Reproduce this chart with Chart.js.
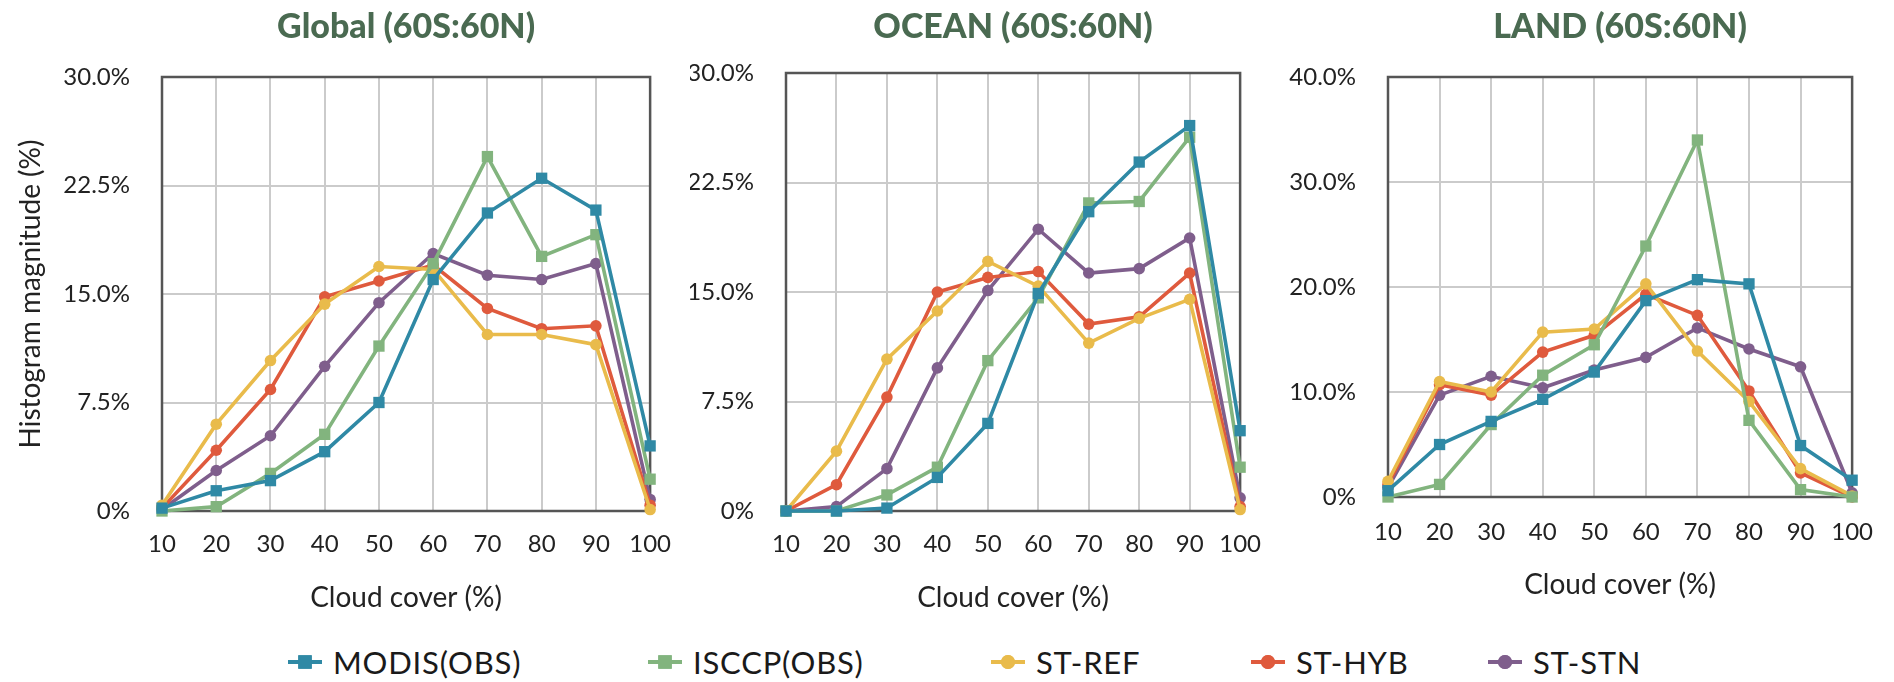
<!DOCTYPE html>
<html>
<head>
<meta charset="utf-8">
<script src="https://cdn.jsdelivr.net/npm/chart.js@4.4.1/dist/chart.umd.min.js"></script>
<style>
  html, body { margin: 0; padding: 0; background: #ffffff; width: 1894px; height: 682px; overflow: hidden; font-family: Lato, "Open Sans", sans-serif; }
  canvas.panel { position: absolute; top: 0; }
  #legend { position: absolute; left: 0; top: 640px; width: 1894px; height: 44px; }
  .item { position: absolute; top: 0; height: 44px; display: flex; align-items: center; white-space: nowrap; }
  .item canvas { margin-right: 11px; }
  .item span { font-family: Lato, sans-serif; font-size: 31px; color: #1a1a1a; letter-spacing: 0.8px; }
</style>
</head>
<body>
<canvas id="c0" class="panel" width="690" height="630" style="left:0px"></canvas>
<canvas id="c1" class="panel" width="590" height="630" style="left:690px"></canvas>
<canvas id="c2" class="panel" width="614" height="630" style="left:1280px"></canvas>
<div id="legend"></div>
<script>
// ---------------- data ----------------
const cloudCover = ['10', '20', '30', '40', '50', '60', '70', '80', '90', '100'];

const seriesNames = ['MODIS(OBS)', 'ISCCP(OBS)', 'ST-REF', 'ST-HYB', 'ST-STN'];

// Global (60S:60N)
const globalModis = [0.2, 1.4, 2.1, 4.1, 7.5, 16.0, 20.6, 23.0, 20.8, 4.5];
const globalIsccp = [0.0, 0.3, 2.6, 5.3, 11.4, 17.1, 24.5, 17.6, 19.1, 2.2];
const globalRef   = [0.4, 6.0, 10.4, 14.3, 16.9, 16.7, 12.2, 12.2, 11.5, 0.1];
const globalHyb   = [0.2, 4.2, 8.4, 14.8, 15.9, 17.0, 14.0, 12.6, 12.8, 0.4];
const globalStn   = [0.1, 2.8, 5.2, 10.0, 14.4, 17.8, 16.3, 16.0, 17.1, 0.8];

// OCEAN (60S:60N)
const oceanModis = [0.0, 0.0, 0.2, 2.3, 6.0, 14.9, 20.5, 23.9, 26.4, 5.5];
const oceanIsccp = [0.0, 0.0, 1.1, 3.0, 10.3, 14.6, 21.1, 21.2, 25.6, 3.0];
const oceanRef   = [0.0, 4.1, 10.4, 13.7, 17.1, 15.4, 11.5, 13.2, 14.5, 0.1];
const oceanHyb   = [0.0, 1.8, 7.8, 15.0, 16.0, 16.4, 12.8, 13.3, 16.3, 0.3];
const oceanStn   = [0.0, 0.3, 2.9, 9.8, 15.1, 19.3, 16.3, 16.6, 18.7, 0.9];

// LAND (60S:60N)
const landModis = [0.6, 5.0, 7.2, 9.3, 11.9, 18.7, 20.7, 20.3, 4.9, 1.6];
const landIsccp = [0.0, 1.2, 6.9, 11.6, 14.5, 23.9, 34.0, 7.3, 0.7, 0.0];
const landRef   = [1.5, 11.0, 10.0, 15.7, 16.0, 20.3, 13.9, 9.1, 2.7, 0.1];
const landHyb   = [1.2, 10.7, 9.7, 13.8, 15.4, 19.3, 17.3, 10.1, 2.3, 0.0];
const landStn   = [0.9, 9.7, 11.5, 10.4, 12.1, 13.3, 16.1, 14.1, 12.4, 0.4];

// tick labels
const yTicks30 = ['0%', '7.5%', '15.0%', '22.5%', '30.0%'];
const yTicks40 = ['0%', '10.0%', '20.0%', '30.0%', '40.0%'];

const panelTitles = ['Global (60S:60N)', 'OCEAN (60S:60N)', 'LAND (60S:60N)'];
const xAxisTitle = 'Cloud cover (%)';
const yAxisTitle = 'Histogram magnitude (%)';

// ---------------- styles ----------------
const seriesColors = ['#2f89a5', '#82b47e', '#e9bb4b', '#df5a3d', '#7f5e8c'];
const seriesPointStyles = ['rect', 'rect', 'circle', 'circle', 'circle'];
const seriesPointRadius = [8, 8, 5.8, 5.8, 5.8];
const FONT = 'Lato';
const TEXT = '#222222';

const boxBorder = {
  id: 'boxBorder',
  beforeDatasetsDraw(chart) {
    const { ctx, chartArea: { left, top, right, bottom } } = chart;
    ctx.save();
    ctx.strokeStyle = '#555555';
    ctx.lineWidth = 2.5;
    ctx.strokeRect(left, top, right - left, bottom - top);
    ctx.restore();
  }
};

function makeDatasets(arrays) {
  return arrays.map((arr, i) => ({
    label: seriesNames[i],
    data: arr,
    borderColor: seriesColors[i],
    backgroundColor: seriesColors[i],
    pointBackgroundColor: seriesColors[i],
    pointBorderColor: seriesColors[i],
    pointStyle: seriesPointStyles[i],
    pointRadius: seriesPointRadius[i],
    pointBorderWidth: 0,
    borderWidth: 3.6,
    tension: 0,
    clip: false
  }));
}

function makeChart(id, cfg) {
  return new Chart(document.getElementById(id), {
    type: 'line',
    data: { labels: cloudCover, datasets: makeDatasets(cfg.series) },
    plugins: [boxBorder],
    options: {
      responsive: false,
      animation: false,
      events: [],
      layout: { padding: { left: 0, right: cfg.padRight, top: 0, bottom: 0 } },
      plugins: {
        legend: { display: false },
        tooltip: { enabled: false },
        title: {
          display: true,
          text: cfg.title,
          color: '#4a6a51',
          fullSize: false,
          font: { family: FONT, size: 34, weight: '900' },
          padding: { top: 6.6, bottom: cfg.titlePadBottom }
        }
      },
      scales: {
        x: {
          type: 'category',
          offset: false,
          grid: { color: '#cbcbcb', lineWidth: 2, drawTicks: false },
          border: { display: false },
          ticks: { color: TEXT, font: { family: FONT, size: 24 }, padding: cfg.xTickPad, maxRotation: 0, autoSkip: false },
          title: { display: true, text: xAxisTitle, color: TEXT, font: { family: FONT, size: 28 }, padding: { top: 0, bottom: cfg.xTitlePadBottom } },
          afterFit(scale) { scale.height = cfg.xHeight; }
        },
        y: {
          min: 0,
          max: cfg.yMax,
          grid: { color: '#cbcbcb', lineWidth: 2, drawTicks: false },
          border: { display: false },
          ticks: {
            stepSize: cfg.yMax / 4,
            color: TEXT,
            font: { family: FONT, size: 24 },
            padding: 32,
            callback: (v, idx) => cfg.yLabels[idx]
          },
          title: cfg.yTitle
            ? { display: true, text: yAxisTitle, color: TEXT, font: { family: FONT, size: 28 }, padding: { top: 14, bottom: 0 } }
            : { display: false },
          afterFit(scale) { scale.width = cfg.yWidth; }
        }
      }
    }
  });
}

makeChart('c0', {
  title: panelTitles[0],
  series: [globalModis, globalIsccp, globalRef, globalHyb, globalStn],
  yMax: 30, yLabels: yTicks30, yTitle: true,
  yWidth: 162, padRight: 38, titlePadBottom: 29.6, xHeight: 119, xTickPad: 19, xTitlePadBottom: 15
});
makeChart('c1', {
  title: panelTitles[1],
  series: [oceanModis, oceanIsccp, oceanRef, oceanHyb, oceanStn],
  yMax: 30, yLabels: yTicks30, yTitle: false,
  yWidth: 96, padRight: 26, titlePadBottom: 25.6, xHeight: 119, xTickPad: 19, xTitlePadBottom: 15
});
makeChart('c2', {
  title: panelTitles[2],
  series: [landModis, landIsccp, landRef, landHyb, landStn],
  yMax: 40, yLabels: yTicks40, yTitle: false,
  yWidth: 108, padRight: 31, titlePadBottom: 29.6, xHeight: 133, xTickPad: 21, xTitlePadBottom: 28
});

// ---------------- legend ----------------
const legendLeft = [288, 648, 991, 1251, 1488];
const legend = document.getElementById('legend');
seriesNames.forEach((name, i) => {
  const item = document.createElement('div');
  item.className = 'item';
  item.style.left = legendLeft[i] + 'px';
  const c = document.createElement('canvas');
  c.width = 34; c.height = 20;
  const ctx = c.getContext('2d');
  ctx.strokeStyle = seriesColors[i];
  ctx.lineWidth = 4;
  ctx.beginPath(); ctx.moveTo(0, 10); ctx.lineTo(34, 10); ctx.stroke();
  ctx.fillStyle = seriesColors[i];
  Chart.helpers.drawPoint(ctx, { pointStyle: seriesPointStyles[i], radius: seriesPointStyles[i] === 'rect' ? 9.5 : 7, borderWidth: 0 }, 17, 10);
  ctx.fill();
  const s = document.createElement('span');
  s.textContent = name;
  item.appendChild(c);
  item.appendChild(s);
  legend.appendChild(item);
});
</script>
</body>
</html>
